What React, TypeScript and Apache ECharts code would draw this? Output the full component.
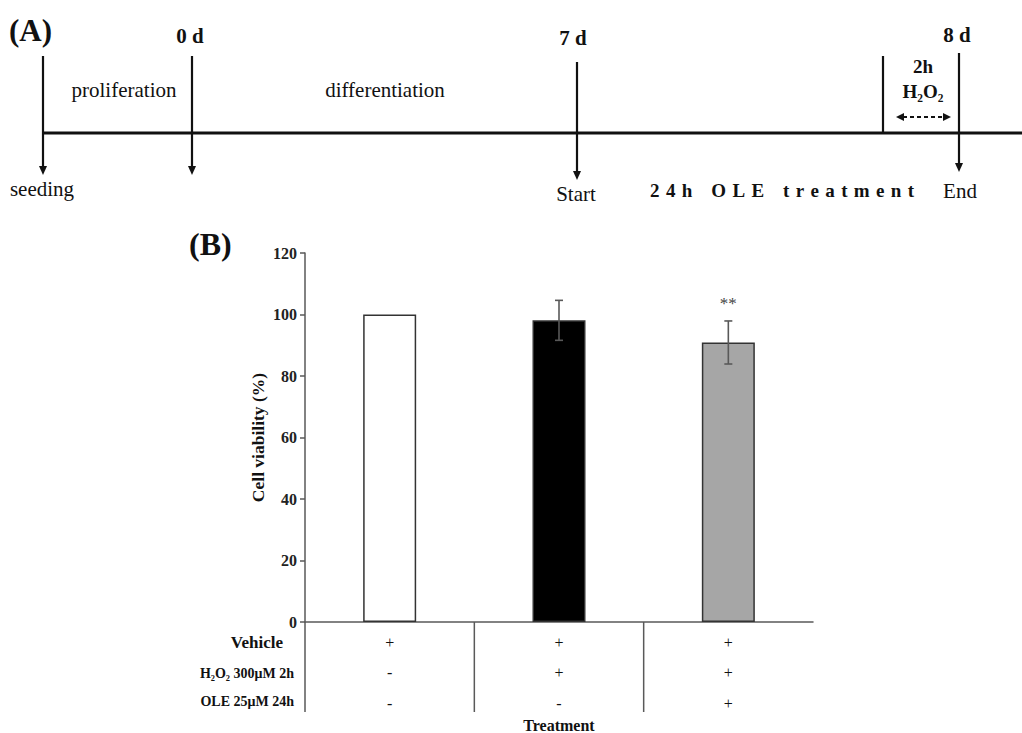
import React, { useEffect, useRef } from "react";
import * as echarts from "echarts";

// ---- data ----
const groups = ["Control", "H2O2", "H2O2 + OLE"];
const viability = [100, 98.1, 90.9];
const viabilitySD = [0, 6.5, 7.0];
const significance = ["", "", "**"];
const barColors = ["#ffffff", "#000000", "#a6a6a6"];
const vehicleRow = ["+", "+", "+"];
const h2o2Row = ["-", "+", "+"];
const oleRow = ["-", "-", "+"];
const rowLabels = ["Vehicle", "H₂O₂ 300μM 2h", "OLE 25μM 24h"];
const yTicks = { min: 0, max: 120, interval: 20 };

const FONT = "'Liberation Serif', 'Times New Roman', serif";
const INK = "#111";
const AXIS = "#595959";
const SP = "\u2004";
const spaced = (s: string) =>
  s
    .split(" ")
    .map((w) => w.split("").join(SP))
    .join(SP + SP + SP);

function arrowDown(x: number, top: number, tip: number) {
  return [
    { type: "line", shape: { x1: x, y1: top, x2: x, y2: tip - 6 }, style: { stroke: INK, lineWidth: 2.2 } },
    { type: "polygon", shape: { points: [[x - 4, tip - 9], [x + 4, tip - 9], [x, tip]] }, style: { fill: INK } },
  ];
}

function label(text: string, x: number, y: number, size: number, bold: boolean, align = "center") {
  return {
    type: "text",
    x,
    y,
    style: {
      text,
      fontFamily: FONT,
      fontSize: size,
      fontWeight: bold ? "bold" : "normal",
      fill: INK,
      align,
      verticalAlign: "middle",
    },
  };
}

export default function App() {
  const ref = useRef<HTMLDivElement>(null);
  useEffect(() => {
    document.body.style.margin = "0";
    if (!ref.current) return;
    const chart = echarts.init(ref.current, null, { renderer: "svg" });

    const timeline: any[] = [
      { type: "line", shape: { x1: 42, y1: 133, x2: 1022, y2: 133 }, style: { stroke: INK, lineWidth: 3 } },
      ...arrowDown(43, 56, 175),
      ...arrowDown(192, 56, 175),
      ...arrowDown(577, 62, 180),
      ...arrowDown(959, 53, 172),
      { type: "line", shape: { x1: 883, y1: 56, x2: 883, y2: 133 }, style: { stroke: INK, lineWidth: 2.2 } },
      { type: "line", shape: { x1: 903, y1: 117, x2: 944, y2: 117 }, style: { stroke: INK, lineWidth: 2, lineDash: [4, 3] } },
      { type: "polygon", shape: { points: [[896, 117], [904, 113], [904, 121]] }, style: { fill: INK } },
      { type: "polygon", shape: { points: [[951, 117], [943, 113], [943, 121]] }, style: { fill: INK } },
      label("(A)", 9, 30, 31, true, "left"),
      label("0 d", 190, 36, 21, true),
      label("7 d", 573, 38, 21, true),
      label("8 d", 957, 35, 21, true),
      label("proliferation", 124, 90, 21, false),
      label("differentiation", 385, 90, 21, false),
      label("seeding", 42, 189, 21, false),
      label("Start", 576, 194, 21, false),
      label(spaced("24h OLE treatment"), 782, 190, 19, true),
      label("End", 960, 191, 21, false),
      label("2h", 923, 66, 19, true),
      label("H₂O₂", 923, 91, 19, true),
      label("(B)", 189, 244, 32, true, "left"),
      label(rowLabels[0], 283, 642, 17, true, "right"),
      label(rowLabels[1], 294, 673, 14, true, "right"),
      label(rowLabels[2], 294, 701, 14, true, "right"),
    ];

    chart.setOption({
      animation: false,
      grid: { left: 305, right: 209, top: 253, bottom: 111, containLabel: false, outerBoundsMode: "none" },
      xAxis: {
        type: "category",
        data: groups,
        axisLine: { lineStyle: { color: AXIS, width: 1.5 } },
        axisTick: { show: false },
        axisLabel: {
          formatter: (_v: string, i: number) => `${vehicleRow[i]}\n${h2o2Row[i]}\n${oleRow[i]}`,
          fontFamily: FONT,
          fontSize: 16,
          color: "#111",
          lineHeight: 30.5,
          margin: 5,
        },
        name: "Treatment",
        nameLocation: "middle",
        nameGap: 95,
        nameMoveOverlap: false,
        nameTextStyle: { fontFamily: FONT, fontSize: 16, fontWeight: "bold", color: INK },
      },
      yAxis: {
        type: "value",
        min: yTicks.min,
        max: yTicks.max,
        interval: yTicks.interval,
        axisLine: { show: true, lineStyle: { color: AXIS, width: 1.5 } },
        axisTick: { show: true, length: 5, lineStyle: { color: AXIS, width: 1.5 } },
        splitLine: { show: false },
        axisLabel: { fontFamily: FONT, fontSize: 16, fontWeight: "bold", color: "#222", margin: 8 },
        name: "Cell viability (%)",
        nameLocation: "middle",
        nameRotate: 90,
        nameGap: 38,
        nameMoveOverlap: false,
        nameTextStyle: { fontFamily: FONT, fontSize: 17.5, fontWeight: "bold", color: INK },
      },
      series: [
        {
          type: "bar",
          barWidth: 53,
          data: viability.map((v, i) => ({
            value: v,
            itemStyle: { color: barColors[i], borderColor: "#333", borderWidth: 1.5 },
          })),
          z: 2,
        },
        {
          type: "custom",
          z: 3,
          data: viability.map((v, i) => [i, v, viabilitySD[i]]),
          renderItem: (params: any, api: any) => {
            const i = api.value(0);
            const m = api.value(1);
            const sd = api.value(2);
            const top = api.coord([i, m + sd]);
            const bot = api.coord([i, m - sd]);
            const cap = 4;
            const children: any[] = [];
            if (sd > 0) {
              children.push(
                { type: "line", shape: { x1: top[0], y1: top[1], x2: bot[0], y2: bot[1] }, style: { stroke: AXIS, lineWidth: 1.6 } },
                { type: "line", shape: { x1: top[0] - cap, y1: top[1], x2: top[0] + cap, y2: top[1] }, style: { stroke: AXIS, lineWidth: 1.6 } },
                { type: "line", shape: { x1: bot[0] - cap, y1: bot[1], x2: bot[0] + cap, y2: bot[1] }, style: { stroke: AXIS, lineWidth: 1.6 } }
              );
            }
            const sig = significance[params.dataIndex];
            if (sig) {
              children.push({
                type: "text",
                x: top[0],
                y: top[1] - 17,
                style: { text: sig, fontFamily: FONT, fontSize: 17, fill: "#444", align: "center", verticalAlign: "middle" },
              });
            }
            return { type: "group", children };
          },
        },
        {
          type: "custom",
          z: 1,
          data: groups.map((_g, i) => [i, 0]),
          renderItem: (_params: any, api: any) => {
            const i = api.value(0);
            const c = api.coord([i, 0]);
            const w = api.size([1, 0])[0];
            const x = c[0] - w / 2;
            return {
              type: "line",
              shape: { x1: x, y1: c[1], x2: x, y2: c[1] + 90 },
              style: { stroke: AXIS, lineWidth: 1.5 },
            };
          },
        },
      ],
      graphic: timeline,
    });
    return () => chart.dispose();
  }, []);
  return <div ref={ref} style={{ width: 1022, height: 733 }} />;
}
